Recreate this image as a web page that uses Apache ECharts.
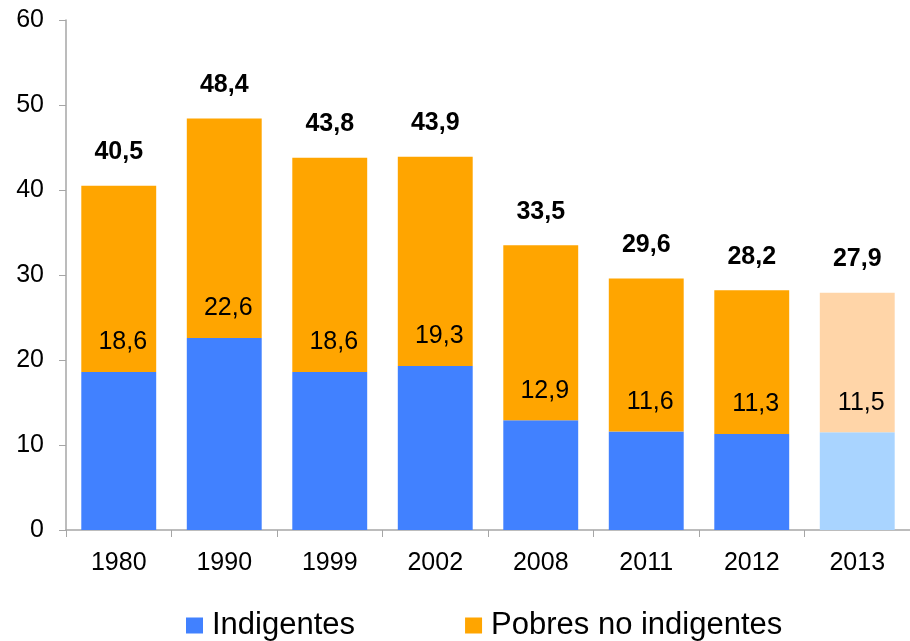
<!DOCTYPE html>
<html>
<head>
<meta charset="utf-8">
<script src="https://cdn.jsdelivr.net/npm/echarts@6/dist/echarts.min.js"></script>
<style>
  html, body { margin: 0; padding: 0; background: #fff; }
  #chart { width: 910px; height: 641px; }
</style>
</head>
<body>
<div id="chart"></div>
<script>
// datos
var years = ['1980', '1990', '1999', '2002', '2008', '2011', '2012', '2013'];
var indigentes = [18.6, 22.6, 18.6, 19.3, 12.9, 11.6, 11.3, 11.5];
var totales = [40.5, 48.4, 43.8, 43.9, 33.5, 29.6, 28.2, 27.9];
var pobresNoIndigentes = totales.map(function (t, i) {
  return +(t - indigentes[i]).toFixed(1);
});
var yTicks = [0, 10, 20, 30, 40, 50, 60];

var blue = '#4181ff', orange = '#ffa500';
var blueLight = '#a9d4ff', orangeLight = '#ffd5a8';
var lastIdx = years.length - 1; // 2013 en tono claro

function coma(v) {
  return v.toFixed(1).replace('.', ',');
}

var font = 'Liberation Sans, Arial, sans-serif';
var chart = echarts.init(document.getElementById('chart'));

var option = {
  animation: false,
  textStyle: { fontFamily: font },
  grid: { left: 66, top: 20, bottom: 111, width: 852 },
  legend: {
    data: ['Indigentes', 'Pobres no indigentes'],
    left: 181,
    top: 605,
    itemWidth: 17,
    itemHeight: 16,
    itemGap: 110,
    icon: 'rect',
    textStyle: { fontSize: 31, color: '#000', fontFamily: font, padding: [0, 0, 0, 4] }
  },
  xAxis: {
    type: 'category',
    data: years,
    axisLine: { lineStyle: { color: '#a6a6a6', width: 1.5 } },
    axisTick: { show: true, length: 7, lineStyle: { color: '#a6a6a6' } },
    axisLabel: { fontSize: 25, color: '#000', margin: 21 }
  },
  yAxis: {
    type: 'value',
    min: yTicks[0],
    max: yTicks[yTicks.length - 1],
    interval: 10,
    splitLine: { show: false },
    axisLine: { show: true, lineStyle: { color: '#a6a6a6', width: 1.5 } },
    axisTick: { show: true, length: 7, inside: false, lineStyle: { color: '#a6a6a6' } },
    axisLabel: { fontSize: 25, color: '#000', margin: 22 }
  },
  series: [
    {
      name: 'Indigentes',
      type: 'bar',
      stack: 'total',
      barCategoryGap: '29%',
      itemStyle: { color: blue },
      data: indigentes.map(function (v, i) {
        return i === lastIdx ? { value: v, itemStyle: { color: blueLight } } : v;
      }),
      label: {
        show: true,
        position: 'top',
        distance: 17,
        offset: [4, 0],
        fontSize: 25,
        color: '#000',
        fontFamily: font,
        formatter: function (p) { return coma(p.value); }
      }
    },
    {
      name: 'Pobres no indigentes',
      type: 'bar',
      stack: 'total',
      itemStyle: { color: orange },
      data: pobresNoIndigentes.map(function (v, i) {
        return i === lastIdx ? { value: v, itemStyle: { color: orangeLight } } : v;
      }),
      label: {
        show: true,
        position: 'top',
        distance: 21,
        fontSize: 25,
        fontWeight: 'bold',
        color: '#000',
        fontFamily: font,
        formatter: function (p) { return coma(totales[p.dataIndex]); }
      }
    }
  ]
};

chart.setOption(option);
</script>
</body>
</html>
